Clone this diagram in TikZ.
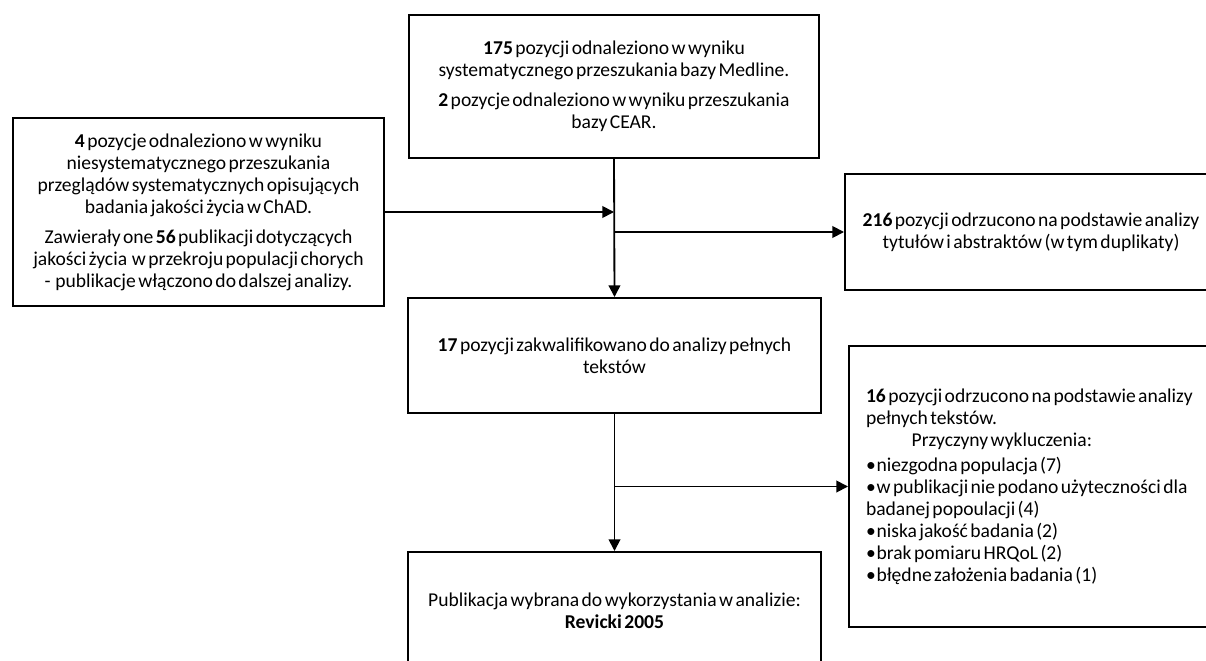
\documentclass[tikz,border=0pt]{standalone}
\usepackage{fontspec}
\setmainfont{Carlito}[WordSpace=0.55]
\usetikzlibrary{arrows.meta}
\tikzset{
  box/.style={draw,line width=1.2pt,anchor=north west,align=center,inner sep=0,font=\fontsize{11.75pt}{13.2pt}\selectfont},
  flow/.style={line width=1.1pt,-{Triangle[length=7pt,width=7pt]}}
}
\begin{document}
\begin{tikzpicture}[x=0.6pt,y=-0.6pt]
  \useasboundingbox (0,0) rectangle (1206,661);
  \node[box,minimum width=246pt,minimum height=85.8pt] (medline) at (408,14) {\textbf{175} pozycji odnaleziono w wyniku\\systematycznego przeszukania bazy Medline.\\[4.8pt]\textbf{2} pozycje odnaleziono w wyniku przeszukania\\bazy CEAR.};
  \node[box,minimum width=222.6pt,minimum height=112.8pt] (search) at (12,117) {\textbf{4} pozycje odnaleziono w wyniku\\niesystematycznego przeszukania\\przeglądów systematycznych opisujących\\badania jakości życia w ChAD.\\[4.8pt]Zawierały one \textbf{56} publikacji dotyczących\\jakości życia \ w przekroju populacji chorych\\- \ publikacje włączono do dalszej analizy.};
  \node[box,minimum width=223.2pt,minimum height=69.6pt] (excl1) at (844,173) {\textbf{216} pozycji odrzucono na podstawie analizy\\tytułów i abstraktów (w tym duplikaty)};
  \node[box,minimum width=247.8pt,minimum height=69pt] (fulltext) at (407,297) {\textbf{17} pozycji zakwalifikowano do analizy pełnych\\tekstów};
  \node[box,align=left,text width=205pt,inner xsep=10.2pt,minimum height=168.6pt] (excl2) at (848,345) {\spaceskip=0pt\xspaceskip=0pt\textbf{16} pozycji odrzucono na podstawie analizy\\pełnych tekstów.\\\makebox[163pt]{Przyczyny wykluczenia:}\\[2pt]•\hspace{0.5pt}niezgodna populacja (7)\\•\hspace{0.5pt}w publikacji nie podano użyteczności dla\\badanej popoulacji (4)\\•\hspace{0.5pt}niska jakość badania (2)\\•\hspace{0.5pt}brak pomiaru HRQoL (2)\\•\hspace{0.5pt}błędne założenia badania (1)};
  \node[box,minimum width=247.8pt,minimum height=70.8pt] (final) at (407,551) {Publikacja wybrana do wykorzystania w analizie:\\\textbf{Revicki 2005}};
  \draw[flow] (medline.south) -- (fulltext.north);
  \draw[flow] (search.east) -- (search.east -| medline.south);
  \draw[flow] (excl1.west -| medline.south) -- (excl1.west);
  \draw[flow] (fulltext.south) -- (final.north);
  \draw[flow] (excl2.west -| fulltext.south) -- (excl2.west);
\end{tikzpicture}
\end{document}
